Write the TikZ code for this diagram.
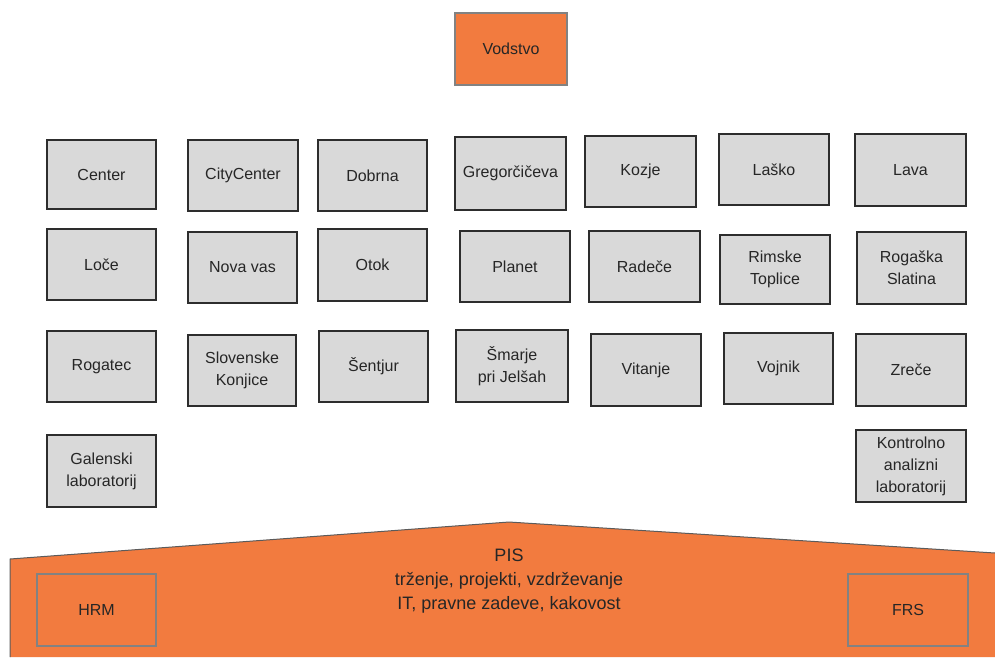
\documentclass[tikz,border=0pt]{standalone}
\usepackage{fontspec}
\setmainfont{Liberation Sans}
\definecolor{orng}{RGB}{242,123,63}
\definecolor{gfill}{RGB}{217,217,217}
\definecolor{gline}{RGB}{45,45,45}
\definecolor{oline}{RGB}{130,130,130}
\begin{document}
\begin{tikzpicture}[x=1pt,y=-1pt,
  gbox/.style={draw=gline, line width=1.4pt, fill=gfill, align=center, inner sep=0pt, text=black!85, font=\fontsize{16}{22}\selectfont},
  obox/.style={draw=oline, line width=1.4pt, fill=orng, align=center, inner sep=0pt, text=black!85, font=\fontsize{16}{22}\selectfont}]
\useasboundingbox (0,0) rectangle (995,657);
% bottom base shape
\path[fill=orng] (10,559) -- (509,522) -- (995,553) -- (995,657) -- (10,657) -- cycle;
\draw[oline!70!black, line width=1pt] (10,657) -- (10,559) -- (509,522) -- (995,553);
\node[align=center, font=\fontsize{18}{24}\selectfont, text=black!85] (pis) at (509,581) {PIS\\trženje, projekti, vzdrževanje\\IT, pravne zadeve, kakovost};
\node[obox, minimum width=119pt, minimum height=72pt] (hrm) at (96.5,610) {HRM};
\node[obox, minimum width=120pt, minimum height=72pt] (frs) at (908,610) {FRS};
% top
\node[obox, minimum width=112pt, minimum height=72pt] (vod) at (511,49) {Vodstvo};
% row 1
\node[gbox, minimum width=109pt, minimum height=69pt] (center) at (101.5,174.5) {Center};
\node[gbox, minimum width=110pt, minimum height=71pt] (city) at (243,175.5) {CityCenter};
\node[gbox, minimum width=109pt, minimum height=71pt] (dobrna) at (372.5,175.5) {Dobrna};
\node[gbox, minimum width=111pt, minimum height=73pt] (greg) at (510.5,173.5) {Gregorčičeva};
\node[gbox, minimum width=111pt, minimum height=71pt] (kozje) at (640.5,171.5) {Kozje};
\node[gbox, minimum width=110pt, minimum height=71pt] (lasko) at (774,169.5) {Laško};
\node[gbox, minimum width=111pt, minimum height=72pt] (lava) at (910.5,170) {Lava};
% row 2
\node[gbox, minimum width=109pt, minimum height=71pt] (loce) at (101.5,264.5) {Loče};
\node[gbox, minimum width=109pt, minimum height=71pt] (nova) at (242.5,267.5) {Nova vas};
\node[gbox, minimum width=109pt, minimum height=72pt] (otok) at (372.5,265) {Otok};
\node[gbox, minimum width=110pt, minimum height=71pt] (planet) at (515,266.5) {Planet};
\node[gbox, minimum width=111pt, minimum height=71pt] (radece) at (644.5,266.5) {Radeče};
\node[gbox, minimum width=110pt, minimum height=69pt] (rimske) at (775,269.5) {Rimske\\Toplice};
\node[gbox, minimum width=109pt, minimum height=72pt] (rogaska) at (911.5,268) {Rogaška\\Slatina};
% row 3
\node[gbox, minimum width=109pt, minimum height=71pt] (rogatec) at (101.5,366.5) {Rogatec};
\node[gbox, minimum width=108pt, minimum height=71pt] (konjice) at (242,370.5) {Slovenske\\Konjice};
\node[gbox, minimum width=109pt, minimum height=71pt] (sentjur) at (373.5,366.5) {Šentjur};
\node[gbox, minimum width=112pt, minimum height=72pt] (smarje) at (512,366) {Šmarje\\pri Jelšah};
\node[gbox, minimum width=110pt, minimum height=72pt] (vitanje) at (646,370) {Vitanje};
\node[gbox, minimum width=109pt, minimum height=71pt] (vojnik) at (778.5,368.5) {Vojnik};
\node[gbox, minimum width=110pt, minimum height=72pt] (zrece) at (911,370) {Zreče};
% row 4
\node[gbox, minimum width=109pt, minimum height=72pt] (galenski) at (101.5,471) {Galenski\\laboratorij};
\node[gbox, minimum width=110pt, minimum height=72pt] (kontrolno) at (911,466) {Kontrolno\\analizni\\laboratorij};
\end{tikzpicture}
\end{document}
